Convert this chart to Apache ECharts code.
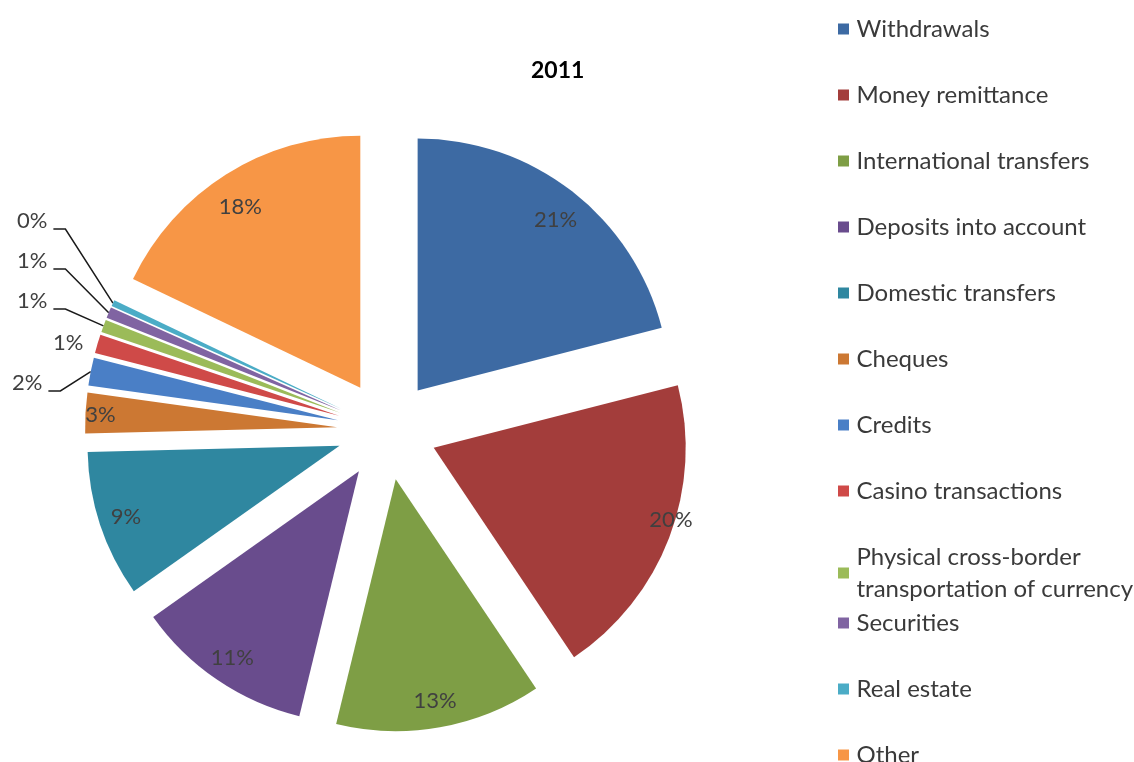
<!DOCTYPE html>
<html>
<head>
<meta charset="utf-8">
<title>2011</title>
<script src="https://cdn.jsdelivr.net/npm/echarts@6/dist/echarts.min.js"></script>
<style>
  html, body { margin: 0; padding: 0; background: #ffffff; }
  #chart { width: 1134px; height: 762px; }
</style>
</head>
<body>
<div id="chart"></div>
<script>
// Reported cases by transaction type, 2011 (share of total, %)
const categories = [
  'Withdrawals',
  'Money remittance',
  'International transfers',
  'Deposits into account',
  'Domestic transfers',
  'Cheques',
  'Credits',
  'Casino transactions',
  'Physical cross-border transportation of currency',
  'Securities',
  'Real estate',
  'Other'
];
const shares = [21.0, 19.6, 13.2, 11.4, 9.4, 2.6, 1.8, 1.2, 0.8, 0.7, 0.4, 17.9];
const titleText = '2011';

const palette = [
  '#3d6aa3', '#a33d3b', '#7e9e45', '#694c8d', '#2f87a0', '#cc7833',
  '#4a7fc6', '#cf4a48', '#9bbb59', '#8064a2', '#4bacc6', '#f79646'
];

const FONT = 'Lato, "Open Sans", sans-serif';
const SMALL = 2.5;           // slices thinner than this get an outside label
const CENTER = [387, 430];
const R = 252;
const EXPLODE = 50;
const SQUARE = 'path://M0,0H10V10H0Z';
const CLEAR = 'rgba(0,0,0,0)';

// small nudges for in-slice labels that sit off the mid-ring
const labelNudge = {
  'Withdrawals': [0, 7],
  'Money remittance': [27, -8],
  'Other': [0, 10],
  'Cheques': [-12, 0]
};

// stacked callouts on the left for the thin slices: [left, middle, leader?]
const calloutSpot = {
  'Real estate': [17, 221, true],
  'Securities': [17, 261, true],
  'Physical cross-border transportation of currency': [17, 301, true],
  'Casino transactions': [53, 343, false],
  'Credits': [12, 383, true]
};

const pct = p => Math.round(p.percent) + '%';
const labelFont = { fontFamily: FONT, fontSize: 22, color: '#404040' };

const sliceData = categories.map((name, i) => ({
  name,
  value: shares[i],
  selected: true,
  itemStyle: { color: palette[i] }
}));

const innerLabelData = categories.map((name, i) => ({
  name,
  value: shares[i],
  selected: true,
  label: { show: shares[i] >= SMALL }
}));

const calloutData = categories.map((name, i) => ({
  name,
  value: shares[i],
  label: { show: shares[i] < SMALL },
  labelLine: { show: shares[i] < SMALL }
}));

const legendBase = {
  orient: 'vertical',
  left: 833,
  icon: SQUARE,
  itemWidth: 16,
  itemHeight: 11,
  itemGap: 34,
  selectedMode: false,
  formatter: name => name.replace('cross-border ', 'cross-border\n'),
  textStyle: {
    fontFamily: FONT,
    fontSize: 24,
    color: '#3a3a3a',
    lineHeight: 32
  }
};

const chart = echarts.init(document.getElementById('chart'), null, { renderer: 'canvas' });

chart.setOption({
  backgroundColor: '#ffffff',
  animation: false,
  color: palette,
  title: {
    text: titleText,
    left: 526,
    top: 54,
    textStyle: { fontFamily: FONT, fontSize: 23, fontWeight: 'bold', color: '#000000' }
  },
  legend: [
    Object.assign({}, legendBase, { top: 8, data: categories.slice(0, 9) }),
    Object.assign({}, legendBase, { top: 602, data: categories.slice(9, 11) }),
    Object.assign({}, legendBase, { top: 734, data: categories.slice(11) })
  ],
  series: [
    {
      // exploded slices
      name: 'slices',
      type: 'pie',
      center: CENTER,
      radius: [0, R],
      startAngle: 90,
      clockwise: true,
      selectedMode: 'multiple',
      selectedOffset: EXPLODE,
      emphasis: { disabled: true },
      select: { itemStyle: { borderWidth: 0 } },
      itemStyle: { borderWidth: 0 },
      label: { show: false },
      labelLine: { show: false },
      data: sliceData
    },
    {
      // transparent exploded ring carrying the in-slice percentages
      name: 'inner labels',
      type: 'pie',
      center: CENTER,
      radius: [192, R],
      startAngle: 90,
      clockwise: true,
      silent: true,
      selectedMode: 'multiple',
      selectedOffset: EXPLODE,
      emphasis: { disabled: true },
      itemStyle: { color: CLEAR, borderWidth: 0 },
      select: { itemStyle: { color: CLEAR, borderWidth: 0 } },
      label: Object.assign({ position: 'inside', formatter: pct }, labelFont),
      labelLine: { show: false },
      labelLayout: p => {
        const n = labelNudge[categories[p.dataIndex]];
        return n ? { dx: n[0], dy: n[1] } : {};
      },
      data: innerLabelData
    },
    {
      // transparent rim at the exploded arc; its labels are the left callouts
      name: 'callouts',
      type: 'pie',
      center: CENTER,
      radius: [R + EXPLODE - 1, R + EXPLODE],
      startAngle: 90,
      clockwise: true,
      silent: true,
      emphasis: { disabled: true },
      itemStyle: { color: CLEAR, borderWidth: 0 },
      label: Object.assign({ position: 'outside', formatter: pct }, labelFont),
      labelLine: {
        length: 10,
        length2: 10,
        lineStyle: { color: '#1a1a1a', width: 1.5 }
      },
      labelLayout: p => {
        const spot = calloutSpot[categories[p.dataIndex]];
        if (!spot || !p.labelLinePoints) return {};
        const [x, y, leader] = spot;
        const edge = p.labelLinePoints[0];
        const lineY = y + 8;
        const tail = x + p.labelRect.width + 6;
        return {
          x, y,
          align: 'left',
          verticalAlign: 'middle',
          labelLinePoints: leader
            ? [edge, [tail + 12, lineY], [tail, lineY]]
            : [edge, edge, edge]
        };
      },
      data: calloutData
    }
  ]
});
</script>
</body>
</html>
